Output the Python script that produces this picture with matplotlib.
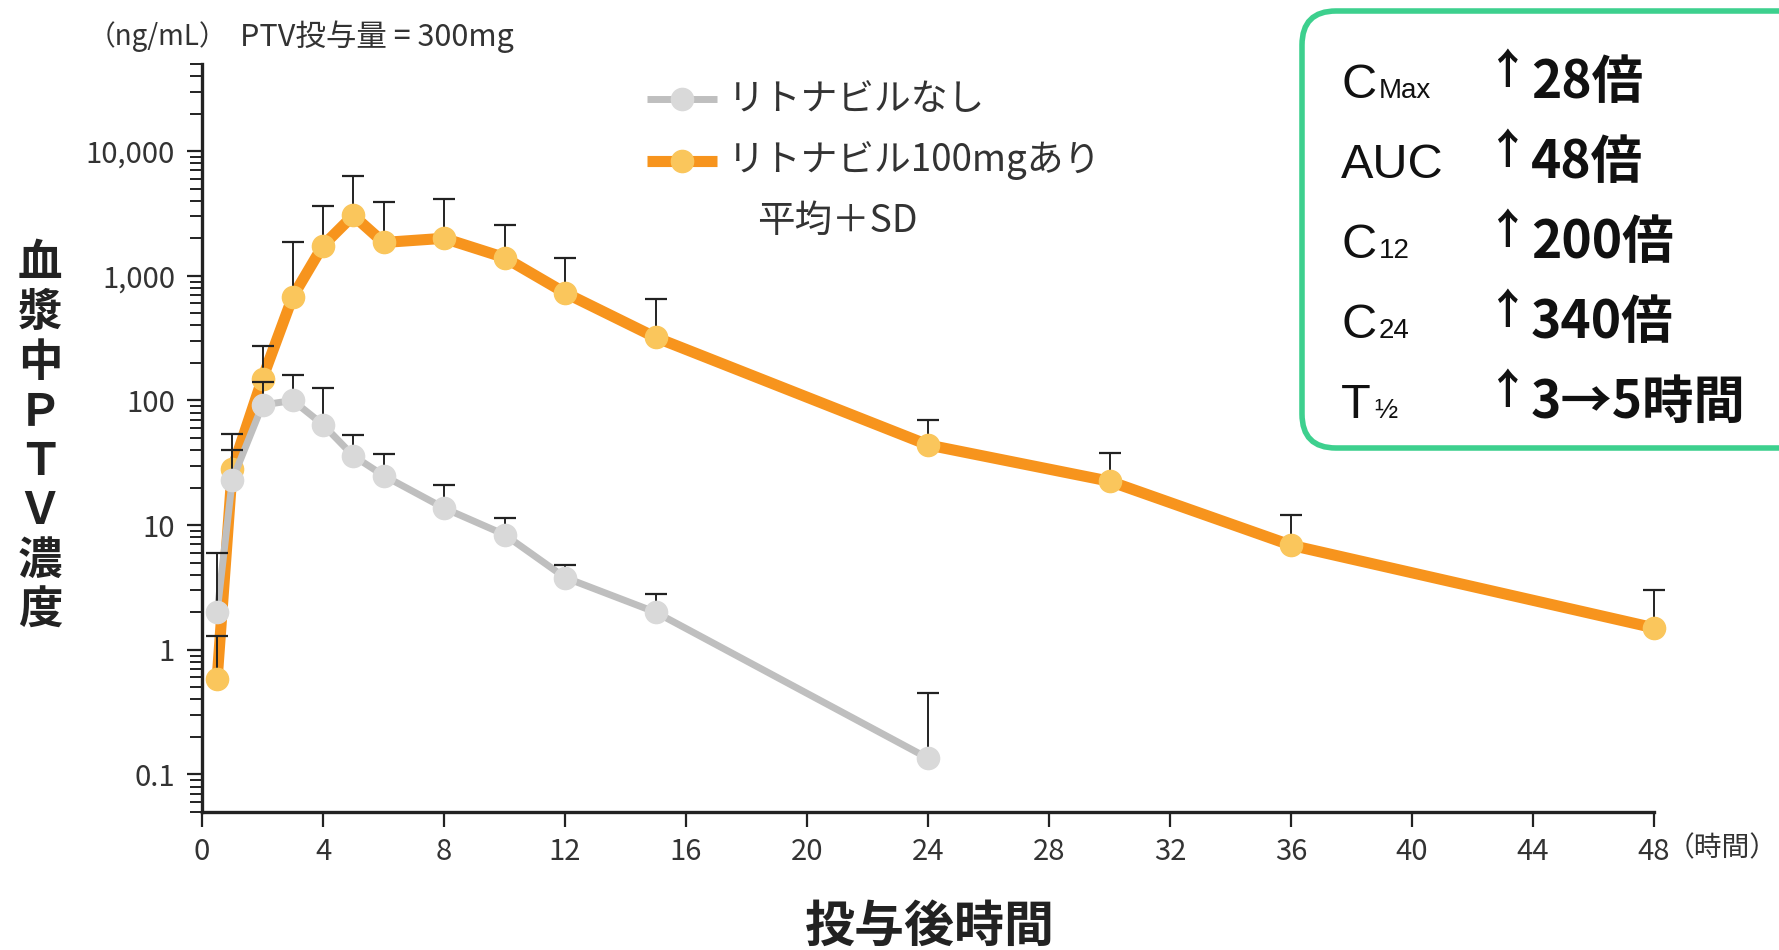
import matplotlib
matplotlib.use('Agg')
import matplotlib.pyplot as plt
import numpy as np
from matplotlib.patches import FancyBboxPatch
from matplotlib.lines import Line2D
from matplotlib.ticker import FixedLocator, FixedFormatter, NullFormatter

# ---------------- data ----------------
times_rtv = [0.5, 1, 2, 3, 4, 5, 6, 8, 10, 12, 15, 24, 30, 36, 48]
with_rtv = [0.58, 28, 150, 680, 1750, 3050, 1850, 2000, 1400, 730, 320, 44, 22.5, 6.9, 1.5]
with_rtv_sd_top = [1.3, 54, 275, 1880, 3600, 6300, 3900, 4150, 2550, 1400, 650, 70, 38, 12, 3.0]

times_no = [0.5, 1, 2, 3, 4, 5, 6, 8, 10, 12, 15, 24]
without_rtv = [2.0, 23, 92, 100, 64, 36, 25, 13.7, 8.4, 3.8, 2.0, 0.135]
without_rtv_sd_top = [6.0, 40, 140, 160, 125, 53, 37, 21, 11.5, 4.8, 2.8, 0.45]

x_ticks = [0, 4, 8, 12, 16, 20, 24, 28, 32, 36, 40, 44, 48]
y_ticks = [0.1, 1, 10, 100, 1000, 10000]
y_ticklabels = ['0.1', '1', '10', '100', '1,000', '10,000']

legend_labels = ['リトナビルなし', 'リトナビル100mgあり']
box_params = ['C', 'AUC', 'C', 'C', 'T']
box_subs = ['Max', '', '12', '24', '½']
box_values = ['28倍', '48倍', '200倍', '340倍', '3→5時間']

# ---------------- style ----------------
CJK = 'Noto Sans CJK JP'
NUM = ['Liberation Sans Narrow', 'Noto Sans CJK JP', 'DejaVu Sans']
ORANGE = '#F7941D'
ORANGE_MK = '#FAC65C'
GRAY = '#BFBFBF'
GRAY_MK = '#D9D9D9'
GREEN = '#3DD08E'

W, H = 1779, 950
fig = plt.figure(figsize=(W / 100, H / 100), dpi=100)
fig.patch.set_facecolor('white')

left, right, bottom, top = 202, 1654, 812, 64
ax = fig.add_axes([left / W, 1 - bottom / H, (right - left) / W, (bottom - top) / H])
ax.set_yscale('log')
ax.set_xlim(0, 48)
ax.set_ylim(0.05, 50000)

for s in ['top', 'right']:
    ax.spines[s].set_visible(False)
for s in ['left', 'bottom']:
    ax.spines[s].set_linewidth(2.4)
    ax.spines[s].set_color('#222222')

# orange series
wr = np.array(with_rtv)
ax.plot(times_rtv, wr, '-', color=ORANGE, lw=8, zorder=2, clip_on=False,
        solid_capstyle='butt')
ax.errorbar(times_rtv, wr, yerr=[np.zeros_like(wr), np.array(with_rtv_sd_top) - wr],
            fmt='none', ecolor='#222222', elinewidth=1.4, capsize=8, capthick=1.6,
            zorder=3, clip_on=False)
ax.plot(times_rtv, wr, 'o', ms=16, mfc=ORANGE_MK, mec=ORANGE_MK, zorder=4, clip_on=False)

# gray series
wo = np.array(without_rtv)
ax.plot(times_no, wo, '-', color=GRAY, lw=5, zorder=5, clip_on=False)
ax.errorbar(times_no, wo, yerr=[np.zeros_like(wo), np.array(without_rtv_sd_top) - wo],
            fmt='none', ecolor='#222222', elinewidth=1.4, capsize=8, capthick=1.6,
            zorder=6, clip_on=False)
ax.plot(times_no, wo, 'o', ms=16, mfc=GRAY_MK, mec=GRAY_MK, zorder=7, clip_on=False)

# ticks
ax.xaxis.set_major_locator(FixedLocator(x_ticks))
ax.set_xticklabels([str(t) for t in x_ticks], family=NUM, fontsize=21, color='#333333')
ax.tick_params(axis='x', which='major', direction='out', length=11, width=1.6,
               color='#222222', pad=7)
ax.yaxis.set_major_locator(FixedLocator(y_ticks))
ax.yaxis.set_major_formatter(FixedFormatter(y_ticklabels))
minor = []
for dec in [0.01, 0.1, 1, 10, 100, 1000, 10000]:
    for m in range(2, 10):
        v = dec * m
        if 0.05 <= v <= 50000 and v not in y_ticks:
            minor.append(v)
ax.yaxis.set_minor_locator(FixedLocator(minor))
ax.yaxis.set_minor_formatter(NullFormatter())
for lab in ax.get_yticklabels():
    lab.set_family(NUM)
    lab.set_fontsize(21)
    lab.set_color('#333333')
ax.tick_params(axis='y', which='major', direction='out', length=10.5, width=1.6,
               color='#222222', pad=9)
ax.tick_params(axis='y', which='minor', direction='out', length=9, width=1.4,
               color='#222222')

# ---------------- overlay (pixel coordinates) ----------------
ov = fig.add_axes([0, 0, 1, 1], zorder=10)
ov.set_xlim(0, W)
ov.set_ylim(H, 0)
ov.axis('off')
ov.patch.set_alpha(0)

# axis labels
ov.text(40, 437, '血\n漿\n中\nＰ\nＴ\nＶ\n濃\n度', family=CJK, fontweight='bold',
        fontsize=32, ha='center', va='center', linespacing=1.1, color='#222222')
ov.text(930, 927, '投与後時間', family=CJK, fontweight='bold', fontsize=36,
        ha='center', va='center', color='#222222')
ov.text(1667, 848, '（時間）', family=CJK, fontsize=20, ha='left', va='center',
        color='#333333')
ov.text(88, 37, '（ng/mL）', family=CJK, fontsize=20, ha='left', va='center',
        color='#333333')
ov.text(240, 37, 'PTV投与量 = 300mg', family=CJK, fontsize=22, ha='left', va='center',
        color='#333333')

# legend
leg_y = [99, 161]
leg_styles = [(GRAY, GRAY_MK, 5), (ORANGE, ORANGE_MK, 8)]
for yy, lab, (lc, mc, lw) in zip(leg_y, legend_labels, leg_styles):
    ov.add_line(Line2D([647, 717], [yy, yy], color=lc, lw=lw, solid_capstyle='butt'))
    ov.plot([682], [yy], 'o', ms=16, mfc=mc, mec=mc)
    ov.text(728, yy, lab, family=CJK, fontsize=26.5, ha='left', va='center',
            color='#333333')
ov.text(757, 221, '平均＋SD', family=CJK, fontsize=27, ha='left', va='center',
        color='#333333')

# summary box
box = FancyBboxPatch((1302, 11), 560, 437, boxstyle='round,pad=0,rounding_size=34',
                     lw=4, ec=GREEN, fc='white', clip_on=False)
ov.add_patch(box)
baselines = [98, 178, 258, 338, 418]
for yb, p, sub, val in zip(baselines, box_params, box_subs, box_values):
    ov.text(1341, yb, p, family=['Liberation Sans', 'DejaVu Sans'], fontsize=35,
            ha='left', va='baseline', color='#111111')
    if sub:
        sx = 1379 if p == 'C' else 1374
        ov.text(sx, yb, sub, family=['Liberation Sans', 'Noto Sans CJK JP'],
                fontsize=20, ha='left', va='baseline', color='#111111')
    ov.text(1507, yb - 14, '↑', family=CJK, fontweight='bold', fontsize=30,
            ha='center', va='baseline', color='#111111')
    ov.text(1531, yb, val, family=CJK, fontweight='bold', fontsize=37, ha='left',
            va='baseline', color='#111111')

fig.savefig('out.png', dpi=100, facecolor='white')
